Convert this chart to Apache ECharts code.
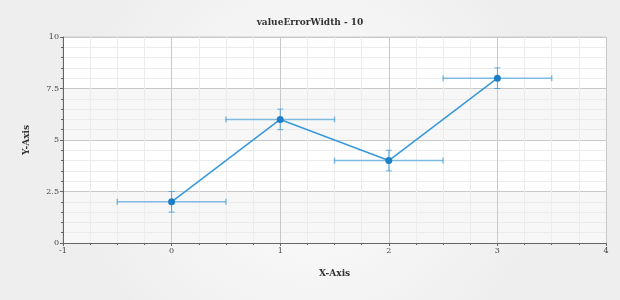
<!DOCTYPE html>
<html><head><meta charset="utf-8">
<script src="https://cdn.jsdelivr.net/npm/echarts@6/dist/echarts.min.js"></script>
<style>html,body{margin:0;padding:0;}#c{width:620px;height:300px;}</style>
</head><body><div id="c"></div>
<script>
const xValues = [0, 1, 2, 3];
const yValues = [2, 6, 4, 8];
const xErrors = [0.5, 0.5, 0.5, 0.5];
const yErrors = [0.5, 0.5, 0.5, 0.5];
const titleText = 'valueErrorWidth - 10';

const chart = echarts.init(document.getElementById('c'));
const font = 'DejaVu Serif';
const pts = xValues.map((x, i) => [x, yValues[i]]);
const errData = xValues.map((x, i) => [x, yValues[i], xErrors[i], yErrors[i]]);

chart.setOption({
  animation: false,
  backgroundColor: {
    type: 'radial', x: 0.5, y: 0.5, r: 0.8,
    colorStops: [{offset: 0, color: '#fdfdfd'}, {offset: 1, color: '#eeeeee'}]
  },
  title: {
    text: titleText, left: 'center', top: 13,
    textStyle: {fontFamily: font, fontSize: 9, fontWeight: 'bold', color: '#333'}
  },
  grid: {left: 63, right: 14, top: 37, bottom: 57, show: true, backgroundColor: '#ffffff', borderColor: '#cccccc', borderWidth: 1},
  xAxis: {
    type: 'value', min: -1, max: 4, interval: 1,
    name: 'X-Axis', nameLocation: 'middle', nameGap: 26,
    nameTextStyle: {fontFamily: font, fontSize: 9, fontWeight: 'bold', color: '#333'},
    axisLine: {show: true, onZero: false, lineStyle: {color: '#666', width: 1}},
    axisTick: {show: true, length: 3, lineStyle: {color: '#666'}},
    minorTick: {show: true, splitNumber: 4, length: 2, lineStyle: {color: '#666'}},
    axisLabel: {fontFamily: font, fontSize: 8, color: '#444', margin: 4},
    splitLine: {show: true, lineStyle: {color: '#c8c8c8'}},
    minorSplitLine: {show: true, lineStyle: {color: '#ececec'}}
  },
  yAxis: {
    type: 'value', min: 0, max: 10, interval: 2.5,
    name: 'Y-Axis', nameLocation: 'middle', nameGap: 32, nameRotate: 90,
    nameTextStyle: {fontFamily: font, fontSize: 9, fontWeight: 'bold', color: '#333'},
    axisLine: {show: true, onZero: false, lineStyle: {color: '#666', width: 1}},
    axisTick: {show: true, length: 3, lineStyle: {color: '#666'}},
    minorTick: {show: true, splitNumber: 5, length: 2, lineStyle: {color: '#666'}},
    axisLabel: {fontFamily: font, fontSize: 8, color: '#444', margin: 4},
    splitLine: {show: true, lineStyle: {color: '#c8c8c8'}},
    minorSplitLine: {show: true, lineStyle: {color: '#ececec'}},
    splitArea: {show: true, areaStyle: {color: ['#f7f7f7', '#ffffff']}}
  },
  series: [
    {
      type: 'custom',
      data: errData,
      z: 2,
      renderItem: function (params, api) {
        const x = api.value(0), y = api.value(1), ex = api.value(2), ey = api.value(3);
        const l = api.coord([x - ex, y]), r = api.coord([x + ex, y]);
        const t = api.coord([x, y + ey]), b = api.coord([x, y - ey]);
        const cap = 3;
        const st = {stroke: 'rgba(52,152,219,0.6)', lineWidth: 1.5};
        const st2 = {stroke: 'rgba(52,152,219,0.75)', lineWidth: 1};
        return {type: 'group', children: [
          {type: 'line', shape: {x1: l[0], y1: l[1], x2: r[0], y2: r[1]}, style: st},
          {type: 'line', shape: {x1: l[0], y1: l[1] - cap, x2: l[0], y2: l[1] + cap}, style: st},
          {type: 'line', shape: {x1: r[0], y1: r[1] - cap, x2: r[0], y2: r[1] + cap}, style: st},
          {type: 'line', shape: {x1: t[0], y1: t[1], x2: b[0], y2: b[1]}, style: st2},
          {type: 'line', shape: {x1: t[0] - cap, y1: t[1], x2: t[0] + cap, y2: t[1]}, style: st2},
          {type: 'line', shape: {x1: b[0] - cap, y1: b[1], x2: b[0] + cap, y2: b[1]}, style: st2}
        ]};
      }
    },
    {
      type: 'line',
      data: pts,
      z: 3,
      symbol: 'circle', symbolSize: 7,
      lineStyle: {color: '#3a9ad9', width: 1.6},
      itemStyle: {color: '#1f7fc4', borderWidth: 0}
    }
  ]
});
</script></body></html>
